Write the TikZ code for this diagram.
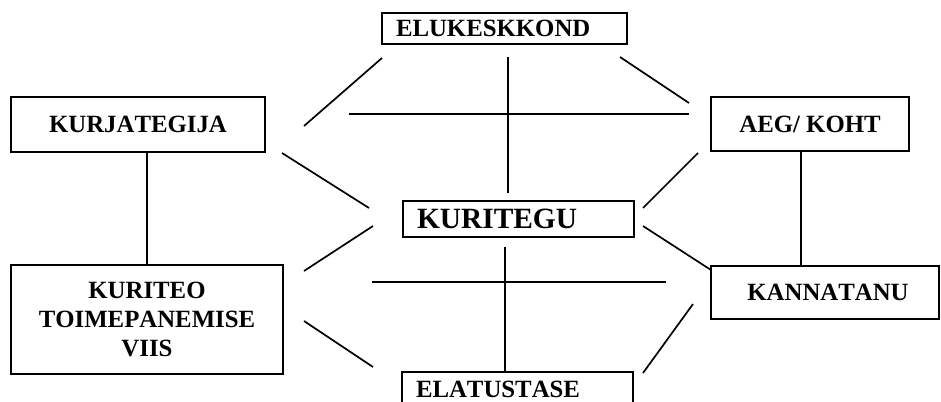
\documentclass[tikz,border=0pt]{standalone}
\usepackage{fontspec}
\setmainfont{Liberation Serif}[Kerning=Off]
\begin{document}
\begin{tikzpicture}[x=1pt,y=-1pt,
  box/.style={draw, line width=2pt, rectangle, inner ysep=0pt, inner xsep=0pt,
    font=\fontsize{24.8}{29}\selectfont\bfseries, align=center},
  lbox/.style={box, inner xsep=14pt, align=left},
  conn/.style={line width=1.7pt}]
\useasboundingbox (0,0) rectangle (941,401);
\begin{scope}
\clip (0,0) rectangle (941,401);
\node[lbox, minimum height=31pt, text width=217pt] (eluk) at (504.5,28.5) {ELUKESKKOND};
\node[box, minimum width=254pt, minimum height=55pt] (kurja) at (138,124.5) {KURJATEGIJA};
\node[box, minimum width=198pt, minimum height=54pt] (aeg) at (810,124) {AEG/ KOHT};
\node[lbox, minimum height=36pt, text width=203pt, font=\fontsize{29.4}{34}\selectfont\bfseries] (kuritegu) at (518.5,219) {KURITEGU};
\node[box, minimum width=272pt, minimum height=109pt] (kuriteo) at (147,319.5) {KURITEO\\TOIMEPANEMISE\\VIIS};
\node[box, minimum width=228pt, minimum height=53pt] (kanna) at (825,292.5) {\hspace*{6pt}KANNATANU};
\node[lbox, minimum height=34pt, text width=203pt] (elat) at (517.5,389) {ELATUSTASE};
\end{scope}
% free line ends
\coordinate (a1) at (304,126); \coordinate (a2) at (382,58);
\coordinate (b1) at (349,114); \coordinate (b2) at (689,114);
\coordinate (c1) at (620,57);  \coordinate (c2) at (689,103);
\coordinate (d1) at (508,57);  \coordinate (d2) at (508,193);
\coordinate (e1) at (282,153); \coordinate (e2) at (369,208);
\coordinate (f1) at (373,226); \coordinate (f2) at (304,271);
\coordinate (g1) at (643,208); \coordinate (g2) at (698,153);
\coordinate (h1) at (643,226); \coordinate (h2) at (711,270);
\coordinate (i1) at (372,282); \coordinate (i2) at (666,282);
\coordinate (j1) at (505,247); \coordinate (j2) at (505,372);
\coordinate (k1) at (304,321); \coordinate (k2) at (373,367);
\coordinate (l1) at (693,304); \coordinate (l2) at (643,373);
\coordinate (m1) at (801,151); \coordinate (m2) at (801,266);
\draw[conn] (a1) -- (a2);
\draw[conn] (b1) -- (b2);
\draw[conn] (c1) -- (c2);
\draw[conn] (d1) -- (d2);
\draw[conn] (e1) -- (e2);
\draw[conn] (f1) -- (f2);
\draw[conn] (g1) -- (g2);
\draw[conn] (h1) -- (h2);
\draw[conn] (i1) -- (i2);
\draw[conn] (j1) -- (j2);
\draw[conn] (k1) -- (k2);
\draw[conn] (l1) -- (l2);
\draw[conn] (kurja.south -| kuriteo.north) -- (kuriteo.north);
\draw[conn] (m1) -- (m2);
\end{tikzpicture}
\end{document}
